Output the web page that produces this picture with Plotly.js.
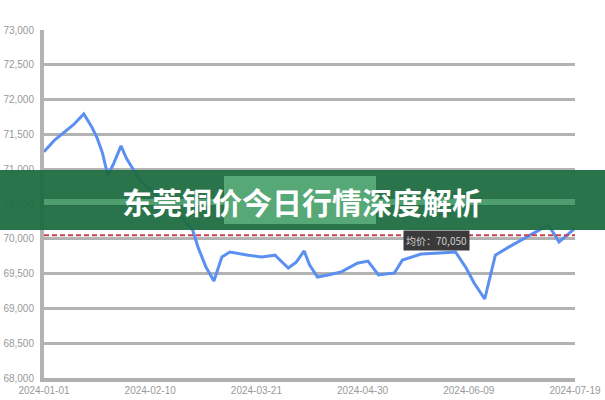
<!DOCTYPE html>
<html>
<head>
<meta charset="utf-8">
<script src="https://cdn.plot.ly/plotly-3.0.1.min.js"></script>
<style>html,body{margin:0;padding:0;background:#fff;}#chart{width:605px;height:400px;}</style>
</head>
<body>
<div id="chart"></div>
<script>
// ---- data ----
const startDate = "2024-01-01";
const dayOffsets = [0, 4, 11, 15, 18, 20, 22, 24, 26, 29, 31, 36, 44, 51, 56, 58, 61, 64, 67, 70, 77, 82, 87, 92, 95, 98, 100, 103, 107, 112, 118, 122, 126, 132, 135, 142, 149, 155, 159, 162, 166, 168, 170, 175, 183, 190, 194, 199, 200];
const prices = [71250, 71420, 71635, 71795, 71605, 71450, 71235, 70915, 71060, 71335, 71160, 70845, 70585, 70340, 70125, 69880, 69595, 69395, 69740, 69810, 69765, 69740, 69765, 69580, 69665, 69825, 69625, 69450, 69480, 69525, 69650, 69680, 69480, 69510, 69695, 69780, 69795, 69810, 69580, 69365, 69135, 69450, 69765, 69880, 70055, 70200, 69955, 70110, 70150];
const avgPrice = 70050;
const avgLabel = "均价：70,050";
const tickDates = ["2024-01-01", "2024-02-10", "2024-03-21", "2024-04-30", "2024-06-09", "2024-07-19"];
const yTicks = [68000, 68500, 69000, 69500, 70000, 70500, 71000, 71500, 72000, 72500, 73000];
const bannerTitle = "东莞铜价今日行情深度解析";

function addDays(iso, n) {
  const d = new Date(iso + "T00:00:00Z");
  d.setUTCDate(d.getUTCDate() + n);
  return d.toISOString().slice(0, 10);
}
const dates = dayOffsets.map(n => addDays(startDate, n));

// ---- layout geometry ----
const W = 605, H = 400, mL = 44, mR = 30, mT = 30, mB = 22;
const pw = W - mL - mR, ph = H - mT - mB;
const px = x => (x - mL) / pw;          // pixel -> paper x
const py = y => (H - mB - y) / ph;      // pixel -> paper y

const trace = {
  x: dates, y: prices, type: "scatter", mode: "lines",
  line: {color: "#5b8ff0", width: 3}, hoverinfo: "skip"
};

const layout = {
  width: W, height: H,
  margin: {l: mL, r: mR, t: mT, b: mB, pad: 0},
  paper_bgcolor: "#ffffff", plot_bgcolor: "#ffffff",
  showlegend: false,
  font: {family: "Liberation Sans, Arial, sans-serif", color: "#999999", size: 10},
  xaxis: {
    type: "date", range: [tickDates[0], tickDates[tickDates.length - 1]],
    tickvals: tickDates, ticktext: tickDates, tickangle: 0,
    showgrid: false, zeroline: false,
    showline: true, linecolor: "#b0b0b0", linewidth: 4,
    ticks: "", tickfont: {size: 10, color: "#999999"}
  },
  yaxis: {
    range: [yTicks[0], yTicks[yTicks.length - 1]],
    tickvals: yTicks, ticktext: yTicks.map(v => v.toLocaleString("en-US")),
    showgrid: true, gridcolor: "#b3b3b3", gridwidth: 3,
    zeroline: false, showline: true, linecolor: "#b3b3b3", linewidth: 4,
    ticks: "", ticklabelstandoff: 4, tickfont: {size: 10, color: "#999999"}
  },
  shapes: [
    {type: "line", xref: "paper", yref: "y", x0: 0, x1: 1, y0: avgPrice, y1: avgPrice,
     line: {color: "#c8404f", width: 2, dash: "5px,3px"}, layer: "above"},
    {type: "rect", xref: "paper", yref: "paper", x0: px(0), x1: px(W), y0: py(230), y1: py(170),
     fillcolor: "#1f6d42", opacity: 0.95, line: {width: 0}, layer: "above"},
    {type: "rect", xref: "paper", yref: "paper", x0: px(44), x1: px(575), y0: py(205), y1: py(199),
     fillcolor: "#4f9e6f", line: {width: 0}, layer: "above"},
    {type: "rect", xref: "paper", yref: "paper", x0: px(224), x1: px(376), y0: py(224), y1: py(176),
     fillcolor: "#56a877", line: {width: 0}, layer: "above"}
  ],
  annotations: [
    {xref: "paper", yref: "paper", x: px(302), y: py(201), text: "<b>" + bannerTitle + "</b>",
     showarrow: false, xanchor: "center", yanchor: "middle",
     font: {family: "Noto Sans CJK SC", size: 30, color: "#ffffff"}},
    {xref: "paper", yref: "y", x: px(436), y: avgPrice, yshift: -5, text: avgLabel,
     showarrow: false, xanchor: "center", yanchor: "middle",
     bgcolor: "#3a3a3a", borderpad: 2,
     font: {family: "Noto Sans CJK SC", size: 10, color: "#cfcfcf"}}
  ]
};

Plotly.newPlot("chart", [trace], layout, {displayModeBar: false, staticPlot: true});
</script>
</body>
</html>
